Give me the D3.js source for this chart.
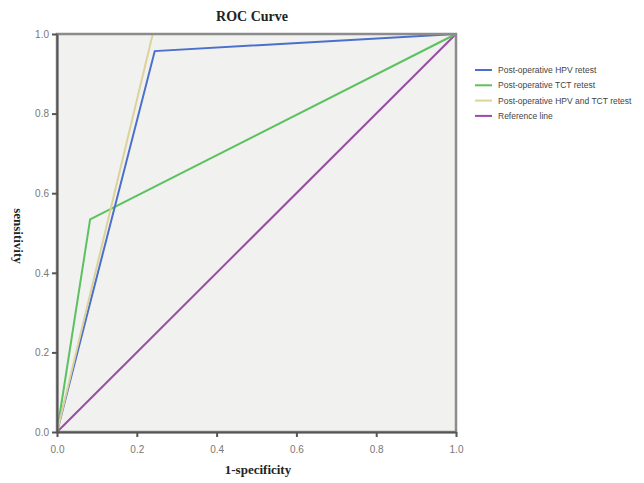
<!DOCTYPE html>
<html>
<head>
<meta charset="utf-8">
<script src="https://cdn.jsdelivr.net/npm/d3@7"></script>
<style>
  body { margin: 0; background: #fff; }
  #graphicContainer { width: 644px; height: 483px; }
</style>
</head>
<body>
<div id="graphicContainer"></div>
<script>
// ROC curve points
var hpvFpr = [0, 0.245, 1];
var hpvTpr = [0, 0.957, 1];
var tctFpr = [0, 0.083, 1];
var tctTpr = [0, 0.534, 1];
var bothFpr = [0, 0.24, 1];
var bothTpr = [0, 1, 1];
var refFpr = [0, 1];
var refTpr = [0, 1];

var seriesNames = ["Post-operative HPV retest", "Post-operative TCT retest", "Post-operative HPV and TCT retest", "Reference line"];
var seriesColors = ["#4c6fcb", "#5cc160", "#dcd39c", "#9b4ca6"];
var ticks = [0, 0.2, 0.4, 0.6, 0.8, 1.0];

function zip(xs, ys) {
	return xs.map(function(x, i) { return {x: x, y: ys[i]}; });
}

var series = [
	zip(hpvFpr, hpvTpr),
	zip(tctFpr, tctTpr),
	zip(bothFpr, bothTpr),
	zip(refFpr, refTpr)
];

var width = 644, height = 483;
var margin = {top: 34, right: 188, bottom: 51, left: 57};

var svg = d3.select("#graphicContainer").append("svg")
	.attr("width", width)
	.attr("height", height);

var x = d3.scaleLinear().domain([0, 1]).range([margin.left, width - margin.right]);
var y = d3.scaleLinear().domain([0, 1]).range([height - margin.bottom, margin.top]);

// plot background
svg.append("rect")
	.attr("x", x(0))
	.attr("y", y(1))
	.attr("width", x(1) - x(0))
	.attr("height", y(0) - y(1))
	.attr("fill", "#f1f1f0");

var line = d3.line().x(d => x(d.x)).y(d => y(d.y));

// reference first, then the rest on top
var order = [3, 1, 0, 2];
order.forEach(function(i) {
	svg.append("path")
		.datum(series[i])
		.attr("d", line)
		.attr("fill", "none")
		.attr("stroke", seriesColors[i])
		.attr("stroke-width", 2);
});

// frame on top of the curves (hides the flat segment along 1.0)
svg.append("rect")
	.attr("x", x(0))
	.attr("y", y(1))
	.attr("width", x(1) - x(0))
	.attr("height", y(0) - y(1))
	.attr("fill", "none")
	.attr("stroke", "#8c8c8c")
	.attr("stroke-width", 2.5);

// axes
var xAxis = d3.axisBottom(x).tickValues(ticks).tickFormat(d3.format(".1f")).tickSize(5).tickSizeOuter(0);
var yAxis = d3.axisLeft(y).tickValues(ticks).tickFormat(d3.format(".1f")).tickSize(5).tickSizeOuter(0);

var gx = svg.append("g").attr("transform", "translate(0," + y(0) + ")").call(xAxis);
var gy = svg.append("g").attr("transform", "translate(" + x(0) + ",0)").call(yAxis);

[gx, gy].forEach(function(g) {
	g.select(".domain").attr("stroke", "#555").attr("stroke-width", 2);
	g.selectAll(".tick line").attr("stroke", "#555").attr("stroke-width", 2);
	g.selectAll(".tick text")
		.attr("fill", "#777")
		.style("font-family", "Liberation Sans, Arial, sans-serif")
		.style("font-size", "10px");
});
gx.selectAll(".tick text").attr("dy", "1.3em");

// title and axis labels
svg.append("text")
	.attr("x", 252)
	.attr("y", 21)
	.attr("text-anchor", "middle")
	.style("font-family", "Liberation Serif, Times New Roman, serif")
	.style("font-weight", "bold")
	.style("font-size", "14px")
	.attr("fill", "#222")
	.text("ROC Curve");

svg.append("text")
	.attr("x", 258)
	.attr("y", 474)
	.attr("text-anchor", "middle")
	.style("font-family", "Liberation Serif, Times New Roman, serif")
	.style("font-weight", "bold")
	.style("font-size", "13px")
	.attr("fill", "#222")
	.text("1-specificity");

svg.append("text")
	.attr("transform", "translate(14,236) rotate(90)")
	.attr("text-anchor", "middle")
	.style("font-family", "Liberation Serif, Times New Roman, serif")
	.style("font-weight", "bold")
	.style("font-size", "13px")
	.attr("fill", "#222")
	.text("sensitivity");

// legend
var legend = svg.append("g").attr("transform", "translate(475,70)");
seriesNames.forEach(function(name, i) {
	var row = legend.append("g").attr("transform", "translate(0," + (i * 15.3) + ")");
	row.append("line")
		.attr("x1", 0).attr("x2", 17)
		.attr("y1", 0).attr("y2", 0)
		.attr("stroke", seriesColors[i])
		.attr("stroke-width", 2);
	row.append("text")
		.attr("x", 23)
		.attr("y", 3)
		.style("font-family", "Liberation Sans, Arial, sans-serif")
		.style("font-size", "8.5px")
		.attr("fill", "#444")
		.text(name);
});
</script>
</body>
</html>
